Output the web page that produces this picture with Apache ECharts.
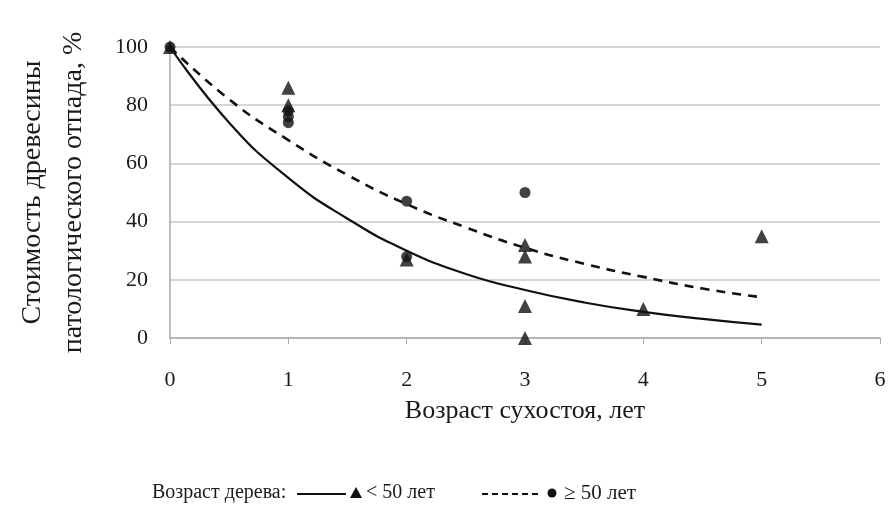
<!DOCTYPE html>
<html>
<head>
    <meta http-equiv="Content-Type" content="text/html; charset=utf-8" />
    <title>Стоимость древесины</title>
    <style type="text/css">
        * { margin: 0; padding: 0 }
        html, body { width: 100%; height: 100%; background: #fff; }
        #chart { width: 889px; height: 513px; }
    </style>
</head>
<body>
    <div id="chart"></div>
    <script src="https://cdn.jsdelivr.net/npm/echarts@6/dist/echarts.min.js"></script>
    <script>
        // возраст сухостоя, лет
        const xTicks = [0, 1, 2, 3, 4, 5, 6];
        const yTicks = [0, 20, 40, 60, 80, 100];

        // деревья < 50 лет
        const youngX = [0, 1, 1, 2, 3, 3, 3, 3, 4, 5];
        const youngY = [100, 86, 80, 27, 32, 28, 11, 0, 10, 35];
        // деревья >= 50 лет
        const oldX = [0, 1, 1, 1, 2, 2, 3];
        const oldY = [100, 78, 76, 74, 47, 28, 50];

        // линии тренда
        const fitX = [0, 0.5, 1, 1.5, 2, 2.5, 3, 3.5, 4, 4.5, 5];
        const fitYoung = [100, 74, 55, 41, 30, 22, 16.5, 12.2, 9, 6.6, 4.6];
        const fitOld = [100, 82, 68, 56, 46, 38, 31, 25.5, 21, 17, 14];

        const font = 'Liberation Serif';
        const ink = '#1a1a1a';
        const zip = (xs, ys) => xs.map((x, i) => [x, ys[i]]);

        const myChart = echarts.init(document.querySelector('#chart'));
        const option = {
            backgroundColor: '#fff',
            animation: false,
            textStyle: { fontFamily: font, color: ink },
            grid: { left: 170, right: 9, top: 47, bottom: 175 },
            xAxis: {
                type: 'value',
                min: xTicks[0],
                max: xTicks[xTicks.length - 1],
                interval: 1,
                name: 'Возраст сухостоя, лет',
                nameLocation: 'middle',
                nameGap: 60,
                nameTextStyle: { fontFamily: font, fontSize: 26, color: ink },
                axisLine: { lineStyle: { color: '#aaa', width: 1.5 } },
                axisTick: { show: true, length: 6, lineStyle: { color: '#aaa' } },
                axisLabel: { fontFamily: font, fontSize: 22, color: ink, margin: 31 },
                splitLine: { show: false }
            },
            yAxis: {
                type: 'value',
                min: yTicks[0],
                max: yTicks[yTicks.length - 1],
                interval: 20,
                name: 'Стоимость древесины\nпатологического отпада, %',
                nameLocation: 'middle',
                nameGap: 76,
                nameTextStyle: { fontFamily: font, fontSize: 28, color: ink, lineHeight: 41 },
                axisLine: { show: true, lineStyle: { color: '#aaa', width: 1.5 } },
                axisTick: { show: false },
                axisLabel: { fontFamily: font, fontSize: 22, color: ink, margin: 22 },
                splitLine: { show: true, lineStyle: { color: '#c8c8c8', width: 1.5 } }
            },
            series: [
                {
                    name: '< 50 лет (тренд)',
                    type: 'line',
                    smooth: true,
                    symbol: 'none',
                    data: zip(fitX, fitYoung),
                    lineStyle: { color: '#111', width: 2.2 },
                    z: 2
                },
                {
                    name: '≥ 50 лет (тренд)',
                    type: 'line',
                    smooth: true,
                    symbol: 'none',
                    data: zip(fitX, fitOld),
                    lineStyle: { color: '#111', width: 2.6, type: [9, 7] },
                    z: 2
                },
                {
                    name: '< 50 лет',
                    type: 'scatter',
                    symbol: 'triangle',
                    symbolSize: 14,
                    data: zip(youngX, youngY),
                    itemStyle: { color: '#111' },
                    z: 3
                },
                {
                    name: '≥ 50 лет',
                    type: 'scatter',
                    symbol: 'circle',
                    symbolSize: 11,
                    data: zip(oldX, oldY),
                    itemStyle: { color: '#111' },
                    z: 3
                }
            ],
            graphic: [
                { type: 'text', left: 152, top: 483, style: { text: 'Возраст дерева:', font: '20px "Liberation Serif"', fill: ink } },
                { type: 'line', shape: { x1: 297, y1: 494, x2: 346, y2: 494 }, style: { stroke: '#111', lineWidth: 2 } },
                { type: 'polygon', shape: { points: [[356, 487], [350, 498], [362, 498]] }, style: { fill: '#111' } },
                { type: 'text', left: 366, top: 483, style: { text: '< 50 лет', font: '20px "Liberation Serif"', fill: ink } },
                { type: 'line', shape: { x1: 482, y1: 494, x2: 541, y2: 494 }, style: { stroke: '#111', lineWidth: 2, lineDash: [6, 4] } },
                { type: 'circle', shape: { cx: 552, cy: 493, r: 4.5 }, style: { fill: '#111' } },
                { type: 'text', left: 564, top: 483, style: { text: '≥ 50 лет', font: '21px "Liberation Serif"', fill: ink } }
            ]
        };
        myChart.setOption(option);
    </script>
</body>
</html>
